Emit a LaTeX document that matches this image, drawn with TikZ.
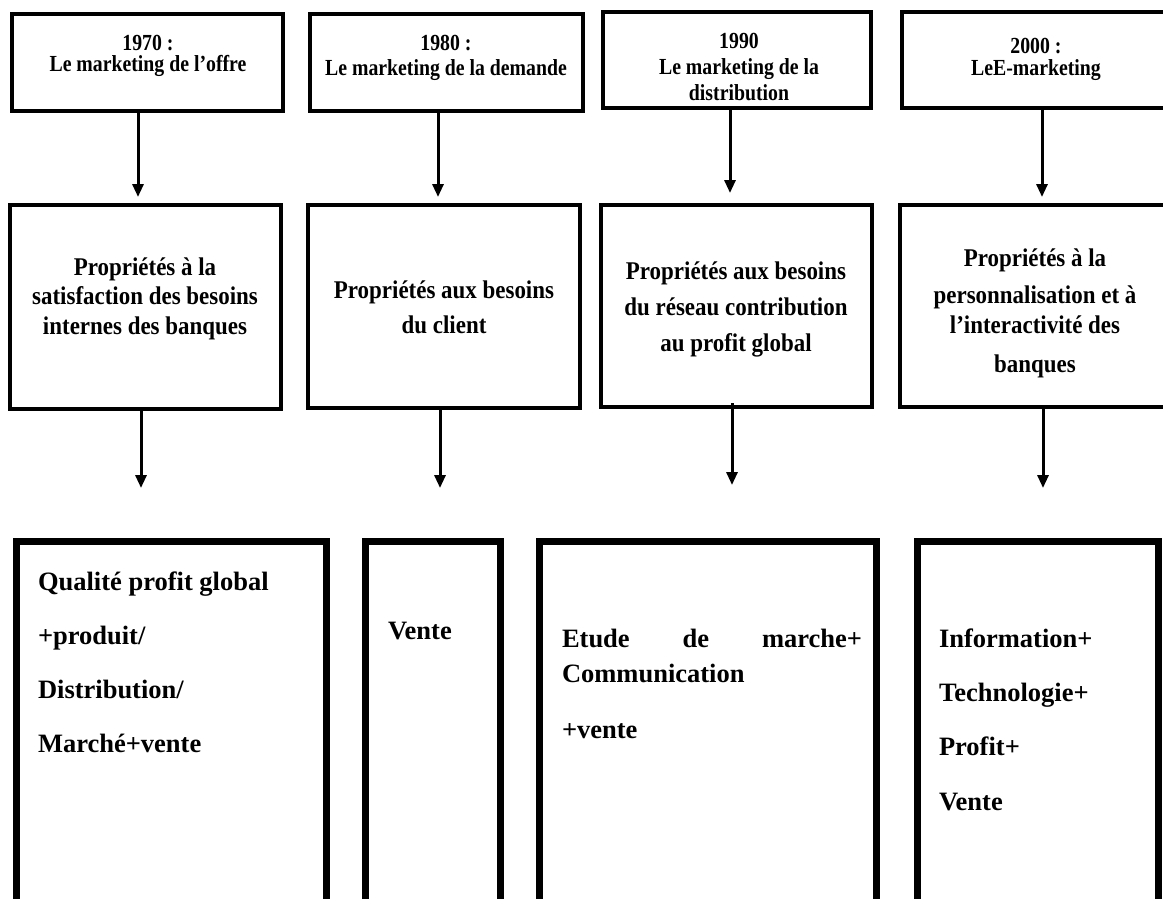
\documentclass[tikz,border=0pt]{standalone}
\usepackage{fontspec}
\setmainfont{Liberation Serif}
\newfontfamily\headserif[FakeStretch=0.86]{Liberation Serif}
\newfontfamily\propserif[FakeStretch=0.9]{Liberation Serif}
\usetikzlibrary{arrows.meta}
\begin{document}
\begin{tikzpicture}[x=1pt,y=-1pt,
  every node/.style={inner sep=0pt,outer sep=0pt},
  topbox/.style={draw,line width=4pt,rectangle,anchor=north west,minimum height=97pt},
  midbox/.style={draw,line width=4.5pt,rectangle,anchor=north west},
  lowbox/.style={draw,line width=7pt,rectangle,anchor=north west,minimum height=420pt},
  toptext/.style={anchor=base,align=center,font=\headserif\bfseries\fontsize{23}{#1}\selectfont},
  midtext/.style={anchor=base,align=center,font=\propserif\bfseries\fontsize{25.5}{#1}\selectfont},
  lowtext/.style={anchor=base west,align=left,font=\bfseries\fontsize{26.5}{#1}\selectfont},
  arr/.style={line width=3pt,-{Triangle[width=11pt,length=13pt]}}]
\useasboundingbox (0,0) rectangle (1163,898);

% decades (text nodes are placed by the baseline of their last line)
\node[topbox,minimum width=271pt] (T1) at (12,14) {};
\node[topbox,minimum width=273pt] (T2) at (310,14) {};
\node[topbox,minimum width=268pt,minimum height=96pt] (T3) at (603,12) {};
\node[topbox,minimum width=320pt,minimum height=96pt] (T4) at (902,12) {};
\node[toptext=21] (t1) at (148,71) {1970 :\\Le marketing de l’offre};
\node[toptext=25] (t2) at (446,75) {1980 :\\Le marketing de la demande};
\node[toptext=26] (t3) at (739,100) {1990\\Le marketing de la\\distribution};
\node[toptext=22] (t4) at (1036,75) {2000 :\\LeE-marketing};

% orientations
\node[midbox,minimum width=271pt,minimum height=204pt] (M1) at (10,205) {};
\node[midbox,minimum width=272pt,minimum height=203pt] (M2) at (308,205) {};
\node[midbox,minimum width=271pt,minimum height=202pt] (M3) at (601,205) {};
\node[midbox,minimum width=320pt,minimum height=202pt] (M4) at (900,205) {};
\node[midtext=29.5] (m1) at (145,334) {Propriétés à la\\satisfaction des besoins\\internes des banques};
\node[midtext=35] (m2) at (444,333) {Propriétés aux besoins\\du client};
\node[midtext=36] (m3) at (736,351) {Propriétés aux besoins\\du réseau contribution\\au profit global};
\node[midtext=30] (m4) at (1035,372) {Propriétés à la\\[7pt]personnalisation et à\\l’interactivité des\\[9pt]banques};

% contents
\node[lowbox,minimum width=310pt] (B1) at (16.5,541.5) {};
\node[lowbox,minimum width=135pt] (B2) at (365.5,541.5) {};
\node[lowbox,minimum width=337pt] (B3) at (539.5,541.5) {};
\node[lowbox,minimum width=241pt] (B4) at (917.5,541.5) {};
\node[lowtext=54] (c1) at (38,752) {Qualité profit global\\+produit/\\Distribution/\\Marché+vente};
\node[lowtext=30] (c2) at (388,639) {Vente};
\node[lowtext=35] (c3) at (562,738) {\makebox[300pt][s]{Etude de marche+}\\Communication\\[21pt]+vente};
\node[lowtext=54.3] (c4) at (939,810) {Information+\\Technologie+\\Profit+\\Vente};

% arrow ends
\coordinate (a1) at (138,197);
\coordinate (a2) at (438,197);
\coordinate (a3) at (730,193);
\coordinate (a4) at (1042,197);
\coordinate (b1) at (141,488);
\coordinate (b2) at (440,488);
\coordinate (b3) at (732,485);
\coordinate (b4) at (1043,488);

\draw[arr] (T1.south -| a1) -- (a1);
\draw[arr] (T2.south -| a2) -- (a2);
\draw[arr] (T3.south -| a3) -- (a3);
\draw[arr] (T4.south -| a4) -- (a4);
\draw[arr] (M1.south -| b1) -- (b1);
\draw[arr] (M2.south -| b2) -- (b2);
\draw[arr] ([yshift=4pt]M3.south -| b3) -- (b3);
\draw[arr] (M4.south -| b4) -- (b4);
\end{tikzpicture}
\end{document}
